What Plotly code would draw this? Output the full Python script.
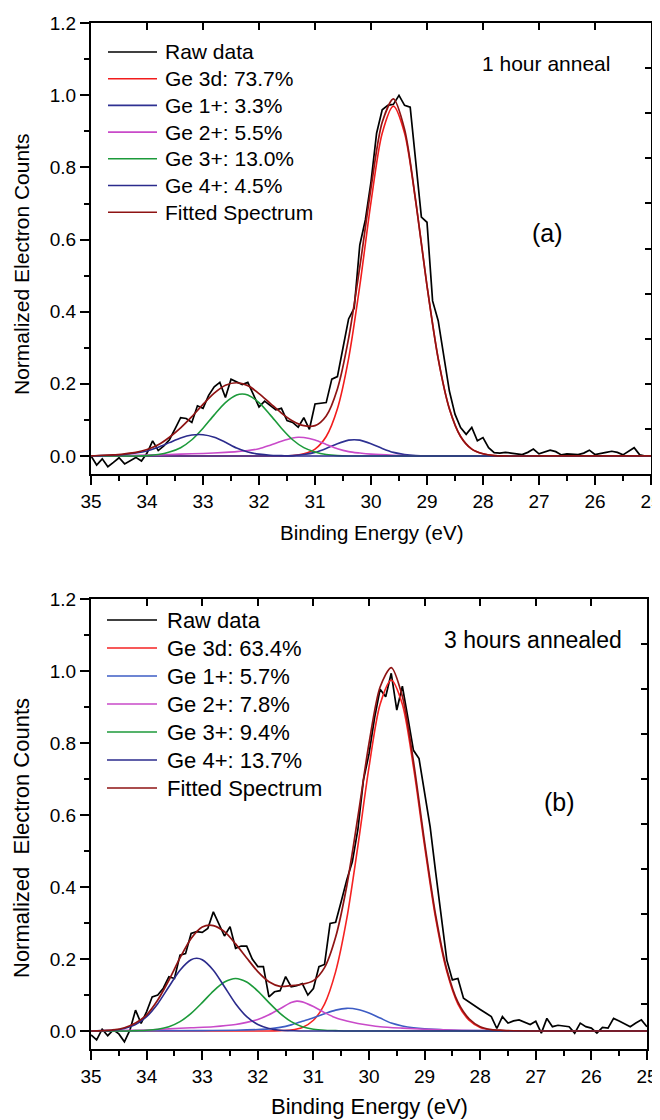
import plotly.graph_objects as go

FONT = "Liberation Sans, Arial, sans-serif"
# the page body keeps its default 8px margin, so the figure is 8px smaller
# than the window and every pixel position below is measured on the window
OFF = 8
W, H = 660 - OFF, 1120 - OFF

# binding energy grid of the raw spectra (eV)
energy = [35.0, 34.9, 34.8, 34.7, 34.6, 34.5, 34.4, 34.3, 34.2, 34.1,
          34.0, 33.9, 33.8, 33.7, 33.6, 33.5, 33.4, 33.3, 33.2, 33.1,
          33.0, 32.9, 32.8, 32.7, 32.6, 32.5, 32.4, 32.3, 32.2, 32.1,
          32.0, 31.9, 31.8, 31.7, 31.6, 31.5, 31.4, 31.3, 31.2, 31.1,
          31.0, 30.9, 30.8, 30.7, 30.6, 30.5, 30.4, 30.3, 30.2, 30.1,
          30.0, 29.9, 29.8, 29.7, 29.6, 29.5, 29.4, 29.3, 29.2, 29.1,
          29.0, 28.9, 28.8, 28.7, 28.6, 28.5, 28.4, 28.3, 28.2, 28.1,
          28.0, 27.9, 27.8, 27.7, 27.6, 27.5, 27.4, 27.3, 27.2, 27.1,
          27.0, 26.9, 26.8, 26.7, 26.6, 26.5, 26.4, 26.3, 26.2, 26.1,
          26.0, 25.9, 25.8, 25.7, 25.6, 25.5, 25.4, 25.3, 25.2, 25.1,
          25.0]

# ---------------- (a) 1 hour anneal ----------------
raw_a = [0.000, -0.025, -0.008, -0.030, -0.018, -0.005, -0.022, -0.012, -0.004, -0.014,
         0.008, 0.042, 0.015, 0.028, 0.045, 0.075, 0.106, 0.104, 0.093, 0.139,
         0.132, 0.168, 0.192, 0.204, 0.162, 0.213, 0.205, 0.198, 0.204, 0.172,
         0.136, 0.152, 0.140, 0.128, 0.132, 0.098, 0.093, 0.080, 0.106, 0.074,
         0.144, 0.146, 0.148, 0.213, 0.220, 0.300, 0.380, 0.410, 0.585, 0.655,
         0.760, 0.895, 0.960, 0.972, 0.975, 1.000, 0.972, 0.967, 0.820, 0.662,
         0.648, 0.430, 0.375, 0.280, 0.180, 0.116, 0.079, 0.060, 0.079, 0.042,
         0.051, 0.023, 0.009, 0.008, 0.010, 0.008, 0.006, 0.004, 0.010, 0.019,
         0.006, 0.010, 0.016, 0.012, 0.003, 0.006, 0.005, 0.004, 0.008, 0.016,
         0.004, 0.006, 0.010, 0.013, 0.010, 0.003, 0.012, 0.023, 0.003, 0.000,
         0.000]

ge3d_x = [35.0, 31.8, 31.6, 31.4, 31.2, 31.0, 30.8, 30.6, 30.4, 30.2, 30.0, 29.8, 29.6,
          29.4, 29.2, 29.0, 28.8, 28.6, 28.4, 28.2, 28.0, 27.8, 27.6, 27.4, 25.0]
ge3d_a = [0, 0, 0.000, 0.001, 0.006, 0.019, 0.054, 0.131, 0.270, 0.472, 0.704, 0.895, 0.970,
          0.895, 0.704, 0.472, 0.270, 0.131, 0.054, 0.019, 0.006, 0.001, 0.000, 0, 0]

ge1_a_x = [35.0, 31.8, 31.6, 31.4, 31.2, 31.0, 30.8, 30.6, 30.4, 30.3, 30.2, 30.0, 29.8,
           29.6, 29.4, 29.2, 29.0, 28.8, 25.0]
ge1_a = [0, 0, 0.000, 0.001, 0.004, 0.010, 0.021, 0.034, 0.044, 0.045, 0.044, 0.034, 0.021,
         0.010, 0.004, 0.001, 0.000, 0, 0]

ge2_a_x = [35.0, 34.6, 34.2, 33.8, 33.4, 33.0, 32.6, 32.4, 32.2, 32.0, 31.8, 31.6, 31.4,
           31.3, 31.2, 31.0, 30.8, 30.6, 30.4, 30.2, 30.0, 29.6, 29.2, 28.8, 25.0]
ge2_a = [0.000, 0.001, 0.002, 0.003, 0.005, 0.007, 0.010, 0.012, 0.015, 0.020, 0.030, 0.041, 0.050,
         0.052, 0.051, 0.044, 0.032, 0.020, 0.012, 0.008, 0.005, 0.002, 0.0005, 0.000, 0.000]

ge3_a_x = [35.0, 34.4, 34.2, 34.0, 33.8, 33.6, 33.4, 33.2, 33.0, 32.8, 32.6, 32.4, 32.3,
           32.2, 32.0, 31.8, 31.6, 31.4, 31.2, 31.0, 30.8, 30.6, 30.4, 25.0]
ge3_a = [0, 0, 0.000, 0.001, 0.004, 0.011, 0.023, 0.045, 0.077, 0.114, 0.148, 0.169, 0.172,
         0.169, 0.148, 0.114, 0.077, 0.045, 0.023, 0.011, 0.004, 0.001, 0.000, 0]

ge4_a_x = [35.0, 34.8, 34.6, 34.4, 34.2, 34.0, 33.8, 33.6, 33.4, 33.2, 33.0, 32.8, 32.6,
           32.4, 32.2, 32.0, 31.8, 31.6, 31.4, 31.2, 25.0]
ge4_a = [0.000, 0.001, 0.002, 0.004, 0.008, 0.014, 0.024, 0.037, 0.050, 0.058, 0.059, 0.052, 0.038,
         0.022, 0.011, 0.005, 0.002, 0.001, 0.000, 0.000, 0.000]

fit_x = [35.0, 34.8, 34.6, 34.4, 34.2, 34.0, 33.8, 33.6, 33.4, 33.2,
         33.0, 32.8, 32.6, 32.4, 32.2, 32.0, 31.8, 31.6, 31.4, 31.2,
         31.0, 30.8, 30.6, 30.4, 30.2, 30.0, 29.8, 29.6, 29.4, 29.2,
         29.0, 28.8, 28.6, 28.4, 28.2, 28.0, 27.8, 27.6, 27.0, 25.0]
fit_a = [0.000, 0.002, 0.003, 0.006, 0.010, 0.018, 0.031, 0.052, 0.078, 0.109,
         0.143, 0.174, 0.196, 0.203, 0.195, 0.173, 0.146, 0.119, 0.097, 0.084,
         0.084, 0.111, 0.186, 0.326, 0.524, 0.743, 0.925, 0.990, 0.905, 0.706,
         0.472, 0.270, 0.131, 0.054, 0.019, 0.006, 0.001, 0.000, 0.000, 0.000]

names_a = ["Raw data", "Ge 3d: 73.7%", "Ge 1+: 3.3%", "Ge 2+: 5.5%",
           "Ge 3+: 13.0%", "Ge 4+: 4.5%", "Fitted Spectrum"]

# ---------------- (b) 3 hours annealed ----------------
raw_b = [-0.011, -0.025, 0.005, -0.013, 0.003, -0.008, -0.030, 0.003, 0.058, 0.021,
         0.054, 0.095, 0.100, 0.119, 0.151, 0.146, 0.211, 0.215, 0.271, 0.276,
         0.274, 0.285, 0.331, 0.299, 0.264, 0.290, 0.230, 0.236, 0.236, 0.200,
         0.179, 0.179, 0.095, 0.109, 0.112, 0.151, 0.123, 0.126, 0.132, 0.100,
         0.118, 0.179, 0.185, 0.299, 0.302, 0.360, 0.420, 0.470, 0.560, 0.697,
         0.770, 0.870, 0.950, 0.929, 0.994, 0.892, 0.958, 0.870, 0.780, 0.757,
         0.660, 0.567, 0.440, 0.320, 0.197, 0.142, 0.146, 0.091, 0.080, 0.070,
         0.060, 0.050, 0.040, 0.007, 0.040, 0.022, 0.028, 0.031, 0.024, 0.018,
         0.027, -0.006, 0.035, 0.012, 0.016, 0.014, 0.012, -0.006, 0.022, 0.012,
         0.008, -0.006, 0.010, 0.008, 0.035, 0.028, 0.020, 0.012, 0.022, 0.031,
         0.012]

ge3d_b = [0, 0, 0.001, 0.003, 0.010, 0.030, 0.075, 0.165, 0.312, 0.514, 0.733, 0.908, 0.975,
          0.908, 0.733, 0.514, 0.312, 0.165, 0.075, 0.030, 0.010, 0.003, 0.001, 0, 0]

ge1_b_x = [35.0, 33.0, 32.4, 32.0, 31.8, 31.6, 31.4, 31.2, 31.0, 30.8, 30.6, 30.4, 30.2,
           30.0, 29.8, 29.6, 29.4, 29.2, 29.0, 28.6, 28.0, 27.0, 25.0]
ge1_b = [0.000, 0.001, 0.002, 0.004, 0.006, 0.010, 0.017, 0.027, 0.037, 0.048, 0.058, 0.063, 0.060,
         0.050, 0.036, 0.022, 0.014, 0.009, 0.006, 0.003, 0.001, 0.000, 0.000]

ge2_b_x = [35.0, 34.4, 34.0, 33.6, 33.2, 32.8, 32.4, 32.2, 32.0, 31.8, 31.6, 31.4, 31.3,
           31.2, 31.0, 30.8, 30.6, 30.4, 30.2, 30.0, 29.8, 29.4, 29.0, 28.4, 27.6, 25.0]
ge2_b = [0.000, 0.002, 0.003, 0.006, 0.009, 0.012, 0.018, 0.024, 0.032, 0.045, 0.062, 0.079, 0.083,
         0.081, 0.068, 0.051, 0.037, 0.028, 0.021, 0.016, 0.012, 0.008, 0.005, 0.002, 0.000, 0.000]

ge3_b_x = [35.0, 34.6, 34.4, 34.2, 34.0, 33.8, 33.6, 33.4, 33.2, 33.0, 32.8, 32.6, 32.4,
           32.2, 32.0, 31.8, 31.6, 31.4, 31.2, 31.0, 30.8, 30.6, 30.4, 30.2, 25.0]
ge3_b = [0, 0, 0.000, 0.001, 0.002, 0.005, 0.012, 0.026, 0.049, 0.079, 0.111, 0.136, 0.146,
         0.136, 0.111, 0.079, 0.049, 0.026, 0.012, 0.005, 0.002, 0.001, 0.000, 0, 0]

ge4_b_x = [35.0, 34.8, 34.6, 34.4, 34.2, 34.0, 33.8, 33.6, 33.4, 33.2, 33.1, 33.0, 32.8,
           32.6, 32.4, 32.2, 32.0, 31.8, 31.6, 31.4, 31.2, 31.0, 25.0]
ge4_b = [0.000, 0.001, 0.002, 0.007, 0.018, 0.040, 0.076, 0.123, 0.169, 0.198, 0.202, 0.198, 0.169,
         0.123, 0.076, 0.040, 0.018, 0.007, 0.002, 0.001, 0.000, 0.000, 0.000]

fit_b = [0.000, 0.001, 0.003, 0.009, 0.022, 0.045, 0.086, 0.141, 0.203, 0.257,
         0.289, 0.293, 0.276, 0.242, 0.203, 0.165, 0.137, 0.124, 0.126, 0.130,
         0.140, 0.176, 0.261, 0.403, 0.595, 0.799, 0.956, 1.010, 0.930, 0.749,
         0.525, 0.321, 0.171, 0.080, 0.034, 0.012, 0.004, 0.002, 0.000, 0.000]

names_b = ["Raw data", "Ge 3d: 63.4%", "Ge 1+: 5.7%", "Ge 2+: 7.8%",
           "Ge 3+: 9.4%", "Ge 4+: 13.7%", "Fitted Spectrum"]

colors_a = ["#000000", "#F21C1C", "#2E3192", "#C94AC9", "#1C9A3A", "#2B2B8C", "#8E1313"]
colors_b = ["#000000", "#F52222", "#3D5CC4", "#C94AC9", "#1C9A3A", "#2B2B8C", "#8E1313"]


def px_x(p):
    return (p - OFF) / W


def px_y(p):
    return 1 - (p - OFF) / H


fig = go.Figure()


def add_panel(xa, ya, names, colors, raw, comps, fitted):
    fig.add_trace(go.Scatter(x=energy, y=raw, name=names[0], mode="lines",
                             line=dict(color=colors[0], width=1.7),
                             xaxis=xa, yaxis=ya, showlegend=False))
    for i, (cx, cy) in enumerate(comps):
        fig.add_trace(go.Scatter(x=cx, y=cy, name=names[i + 1], mode="lines",
                                 line=dict(color=colors[i + 1], width=1.6, shape="spline", smoothing=0.8),
                                 xaxis=xa, yaxis=ya, showlegend=False))
    fig.add_trace(go.Scatter(x=fit_x, y=fitted, name=names[-1], mode="lines",
                             line=dict(color=colors[-1], width=1.7, shape="spline", smoothing=0.8),
                             xaxis=xa, yaxis=ya, showlegend=False))


add_panel("x", "y", names_a, colors_a, raw_a,
          [(ge3d_x, ge3d_a), (ge1_a_x, ge1_a), (ge2_a_x, ge2_a), (ge3_a_x, ge3_a), (ge4_a_x, ge4_a)], fit_a)
add_panel("x2", "y2", names_b, colors_b, raw_b,
          [(ge3d_x, ge3d_b), (ge1_b_x, ge1_b), (ge2_b_x, ge2_b), (ge3_b_x, ge3_b), (ge4_b_x, ge4_b)], fit_b)

# empty traces so the mirrored tick axes (top / right) get drawn
for xa, ya in [("x3", "y3"), ("x4", "y4")]:
    fig.add_trace(go.Scatter(x=[None], y=[None], xaxis=xa, yaxis=ya, showlegend=False, hoverinfo="skip"))

tickfont = dict(family=FONT, size=19, color="black")


def bottom_axis(dom, anchor):
    return dict(domain=dom, anchor=anchor, range=[35.001, 24.999], dtick=1, tick0=25,
                showline=True, linewidth=2, linecolor="black", mirror=True, automargin=False,
                ticks="outside", ticklen=9, tickwidth=1.5, tickcolor="black", tickfont=tickfont,
                ticklabeloverflow="allow",
                minor=dict(dtick=0.5, tick0=25, ticks="outside", ticklen=5, tickwidth=1.5, tickcolor="black"),
                showgrid=False, zeroline=False)


def left_axis(dom, anchor):
    return dict(domain=dom, anchor=anchor, range=[-0.05, 1.2005], dtick=0.2, tick0=0, tickformat=".1f",
                showline=True, linewidth=2, linecolor="black", mirror=True, automargin=False,
                ticks="outside", ticklen=9, tickwidth=1.5, tickcolor="black", tickfont=tickfont,
                ticklabeloverflow="allow",
                minor=dict(dtick=0.1, tick0=0, ticks="outside", ticklen=5, tickwidth=1.5, tickcolor="black"),
                showgrid=False, zeroline=False)


def top_axis(over, anchor):
    return dict(overlaying=over, anchor=anchor, side="top", range=[35, 25], automargin=False,
                tickvals=[34, 33, 32, 31, 30, 29, 28, 27, 26], ticks="inside", ticklen=7,
                tickwidth=1.5, tickcolor="black", showticklabels=False,
                showline=False, showgrid=False, zeroline=False)


def right_axis(over, anchor):
    return dict(overlaying=over, anchor=anchor, side="right", range=[0, 10], automargin=False,
                tickvals=[1, 2, 3, 4, 5, 6, 7, 8, 9], ticks="inside", ticklen=6,
                tickwidth=1.5, tickcolor="black", showticklabels=False,
                showline=False, showgrid=False, zeroline=False)


xdom_a = [px_x(91), px_x(651)]
ydom_a = [px_y(474), px_y(23)]
xdom_b = [px_x(91), px_x(647)]
ydom_b = [px_y(1049), px_y(599)]

annotations = [
    dict(text="Binding Energy (eV)", x=px_x(371), y=px_y(532), font=dict(size=20.5)),
    dict(text="Normalized Electron Counts", x=px_x(21), y=px_y(265), textangle=-90, font=dict(size=21)),
    dict(text="1 hour anneal", x=px_x(546), y=px_y(63), font=dict(size=21)),
    dict(text="(a)", x=px_x(547), y=px_y(233), font=dict(size=25)),
    dict(text="Binding Energy (eV)", x=px_x(369), y=px_y(1106), font=dict(size=22)),
    dict(text="Normalized\u00a0\u00a0Electron Counts", x=px_x(21), y=px_y(838), textangle=-90, font=dict(size=22)),
    dict(text="3 hours annealed", x=px_x(533), y=px_y(640), font=dict(size=23)),
    dict(text="(b)", x=px_x(559), y=px_y(802), font=dict(size=25)),
]
for a in annotations:
    a.update(xanchor="center")

# legend keys: short line + label, one row per series
shapes = []
legend_rows = [
    (names_a, colors_a, 52, 26.7, 108, 157, 163, 21),
    (names_b, colors_b, 620, 28.0, 107, 157, 165, 22),
]
for names, colors, y0, step, lx0, lx1, tx, size in legend_rows:
    for i, (name, color) in enumerate(zip(names, colors)):
        yy = px_y(y0 + i * step)
        shapes.append(dict(type="line", xref="paper", yref="paper", x0=px_x(lx0), x1=px_x(lx1),
                           y0=yy, y1=yy, line=dict(color=color, width=1.6)))
        annotations.append(dict(text=name, x=px_x(tx), y=yy, xanchor="left", font=dict(size=size)))

for a in annotations:
    a.update(xref="paper", yref="paper", showarrow=False, yanchor="middle")
    a["font"].update(family=FONT, color="black")

fig.update_layout(
    width=W, height=H,
    margin=dict(l=0, r=0, t=0, b=0, pad=0, autoexpand=False),
    paper_bgcolor="white", plot_bgcolor="white",
    xaxis=bottom_axis(xdom_a, "y"), yaxis=left_axis(ydom_a, "x"),
    xaxis2=bottom_axis(xdom_b, "y2"), yaxis2=left_axis(ydom_b, "x2"),
    xaxis3=top_axis("x", "y3"), yaxis3=right_axis("y", "x3"),
    xaxis4=top_axis("x2", "y4"), yaxis4=right_axis("y2", "x4"),
    annotations=annotations,
    shapes=shapes,
    showlegend=False,
)

fig.write_html("out.html")
